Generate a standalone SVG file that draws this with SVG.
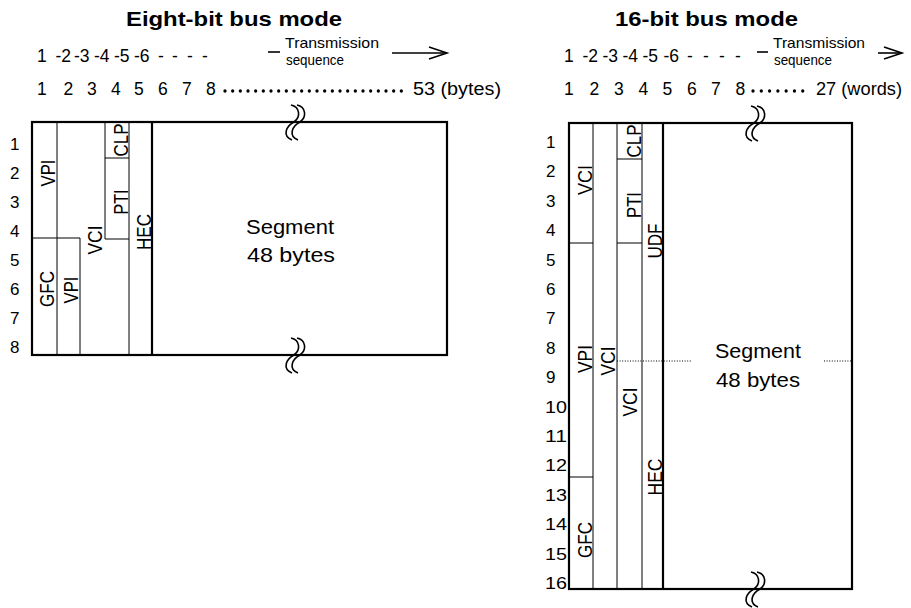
<svg xmlns="http://www.w3.org/2000/svg" width="911" height="608" viewBox="0 0 911 608">
<style>
text{font-family:"Liberation Sans",Arial,Helvetica,sans-serif;fill:#000}
.title{font-size:20.5px;font-weight:bold}
.num{font-size:17.5px}
.small{font-size:14.5px}
.row{font-size:17px}
.lab{font-size:21px}
.seg{font-size:20.5px}
.thick{stroke:#000;stroke-width:2.2;fill:none}
.thin{stroke:#000;stroke-width:1;fill:none}
.brk{stroke:#000;stroke-width:1.6;fill:none}
.dots{stroke:#000;stroke-width:3.3;stroke-linecap:round;fill:none}
.dotted{stroke:#000;stroke-width:1;stroke-dasharray:1 1.6;fill:none}
.arr{stroke:#000;stroke-width:1.6;fill:none}
</style>
<defs>
<path id="brk" d="M-3,-17 C6,-15 7,-5 0,0 C-8,4 -12,14 -2,18"/>
</defs>

<g id="eight-bit">
  <text id="title8" class="title" x="126" y="26" textLength="216" lengthAdjust="spacingAndGlyphs">Eight-bit bus mode</text>
  <g id="seq8">
    <text class="num" y="62"><tspan x="37">1</tspan> <tspan x="55.5">-2</tspan> <tspan x="74">-3</tspan> <tspan x="94">-4</tspan> <tspan x="114">-5</tspan> <tspan x="134">-6</tspan> <tspan x="158">-</tspan> <tspan x="172">-</tspan> <tspan x="187">-</tspan> <tspan x="202">-</tspan></text>
    <line class="arr" x1="268" y1="52" x2="280" y2="52"/>
    <text class="small" x="285" y="48" textLength="94" lengthAdjust="spacingAndGlyphs">Transmission</text>
    <text class="small" x="286" y="65" textLength="58" lengthAdjust="spacingAndGlyphs">sequence</text>
    <line class="arr" x1="392" y1="53" x2="447" y2="53"/>
    <polyline class="arr" points="429,47 447,53 429,59"/>
  </g>
  <g id="bytes8">
    <text class="num" y="95"><tspan x="37">1</tspan> <tspan x="63.5">2</tspan> <tspan x="87">3</tspan> <tspan x="111">4</tspan> <tspan x="134">5</tspan> <tspan x="158">6</tspan> <tspan x="182">7</tspan> <tspan x="206">8</tspan></text>
    <line class="dots" x1="225" y1="91" x2="409" y2="91" stroke-dasharray="0 7.667"/>
    <text class="num" x="413" y="95" textLength="88" lengthAdjust="spacingAndGlyphs">53 (bytes)</text>
  </g>
  <g id="rows8">
    <text class="row" x="10" y="149.5">1</text>
    <text class="row" x="10" y="178.5">2</text>
    <text class="row" x="10" y="207.5">3</text>
    <text class="row" x="10" y="236.5">4</text>
    <text class="row" x="10" y="265.5">5</text>
    <text class="row" x="10" y="294.5">6</text>
    <text class="row" x="10" y="323.5">7</text>
    <text class="row" x="10" y="352.5">8</text>
  </g>
  <g id="cell8">
    <rect class="thick" x="32" y="122" width="415" height="233"/>
    <line class="thin" x1="57" y1="122" x2="57" y2="355"/>
    <line class="thin" x1="80" y1="238" x2="80" y2="355"/>
    <line class="thin" x1="105" y1="122" x2="105" y2="239"/>
    <line class="thin" x1="129" y1="122" x2="129" y2="355"/>
    <line class="thick" x1="152" y1="122" x2="152" y2="355"/>
    <line class="thin" x1="32" y1="238" x2="80" y2="238"/>
    <line class="thin" x1="105" y1="158" x2="129" y2="158"/>
    <line class="thin" x1="105" y1="239" x2="129" y2="239"/>
    <g id="brk8top" class="brk"><use href="#brk" x="294" y="122"/><use href="#brk" x="300" y="122"/></g>
    <g id="brk8bot" class="brk"><use href="#brk" x="294" y="355"/><use href="#brk" x="300" y="355"/></g>
  </g>
  <g id="fields8">
    <text class="lab" transform="translate(55,173) rotate(-90)" text-anchor="middle" textLength="27" lengthAdjust="spacingAndGlyphs">VPI</text>
    <text class="lab" transform="translate(54,289) rotate(-90)" text-anchor="middle" textLength="36" lengthAdjust="spacingAndGlyphs">GFC</text>
    <text class="lab" transform="translate(78,290) rotate(-90)" text-anchor="middle" textLength="27" lengthAdjust="spacingAndGlyphs">VPI</text>
    <text class="lab" transform="translate(102,240) rotate(-90)" text-anchor="middle" textLength="29" lengthAdjust="spacingAndGlyphs">VCI</text>
    <text class="lab" transform="translate(128,140) rotate(-90)" text-anchor="middle" textLength="33" lengthAdjust="spacingAndGlyphs">CLP</text>
    <text class="lab" transform="translate(128,202) rotate(-90)" text-anchor="middle" textLength="25" lengthAdjust="spacingAndGlyphs">PTI</text>
    <text class="lab" transform="translate(151,232) rotate(-90)" text-anchor="middle" textLength="36" lengthAdjust="spacingAndGlyphs">HEC</text>
    <text class="seg" x="290" y="234" text-anchor="middle" textLength="88" lengthAdjust="spacingAndGlyphs">Segment</text>
    <text class="seg" x="291" y="262" text-anchor="middle" textLength="88" lengthAdjust="spacingAndGlyphs">48 bytes</text>
  </g>
</g>

<g id="sixteen-bit">
  <text id="title16" class="title" x="615" y="26" textLength="183" lengthAdjust="spacingAndGlyphs">16-bit bus mode</text>
  <g id="seq16">
    <text class="num" y="62"><tspan x="564">1</tspan> <tspan x="582.5">-2</tspan> <tspan x="602.5">-3</tspan> <tspan x="622.5">-4</tspan> <tspan x="642.5">-5</tspan> <tspan x="663.5">-6</tspan> <tspan x="687">-</tspan> <tspan x="703">-</tspan> <tspan x="719">-</tspan> <tspan x="735">-</tspan></text>
    <line class="arr" x1="757" y1="52" x2="768" y2="52"/>
    <text class="small" x="773" y="48" textLength="92" lengthAdjust="spacingAndGlyphs">Transmission</text>
    <text class="small" x="774" y="65" textLength="58" lengthAdjust="spacingAndGlyphs">sequence</text>
    <line class="arr" x1="878" y1="53" x2="902" y2="53"/>
    <polyline class="arr" points="884,47 902,53 884,59"/>
  </g>
  <g id="words16">
    <text class="num" y="95"><tspan x="564">1</tspan> <tspan x="589.5">2</tspan> <tspan x="614">3</tspan> <tspan x="638.5">4</tspan> <tspan x="662.5">5</tspan> <tspan x="687">6</tspan> <tspan x="711">7</tspan> <tspan x="735.5">8</tspan></text>
    <line class="dots" x1="753" y1="91" x2="811" y2="91" stroke-dasharray="0 8.29"/>
    <text class="num" x="816" y="95" textLength="86" lengthAdjust="spacingAndGlyphs">27 (words)</text>
  </g>
  <g id="rows16">
    <text class="row" x="546" y="148">1</text>
    <text class="row" x="546" y="177.4">2</text>
    <text class="row" x="546" y="206.8">3</text>
    <text class="row" x="546" y="236.2">4</text>
    <text class="row" x="546" y="265.6">5</text>
    <text class="row" x="546" y="295">6</text>
    <text class="row" x="546" y="324.4">7</text>
    <text class="row" x="546" y="353.8">8</text>
    <text class="row" x="546" y="383.2">9</text>
    <text class="row" x="545" y="412.6" textLength="22" lengthAdjust="spacingAndGlyphs">10</text>
    <text class="row" x="545" y="442" textLength="22" lengthAdjust="spacingAndGlyphs">11</text>
    <text class="row" x="545" y="471.4" textLength="22" lengthAdjust="spacingAndGlyphs">12</text>
    <text class="row" x="545" y="500.8" textLength="22" lengthAdjust="spacingAndGlyphs">13</text>
    <text class="row" x="545" y="530.2" textLength="22" lengthAdjust="spacingAndGlyphs">14</text>
    <text class="row" x="545" y="559.6" textLength="22" lengthAdjust="spacingAndGlyphs">15</text>
    <text class="row" x="545" y="589" textLength="22" lengthAdjust="spacingAndGlyphs">16</text>
  </g>
  <g id="cell16">
    <rect class="thick" x="569" y="123" width="283" height="466"/>
    <line class="thin" x1="593" y1="123" x2="593" y2="589"/>
    <line class="thin" x1="617" y1="123" x2="617" y2="589"/>
    <line class="thin" x1="642" y1="123" x2="642" y2="589"/>
    <line class="thick" x1="663" y1="123" x2="663" y2="589"/>
    <line class="thin" x1="569" y1="243" x2="593" y2="243"/>
    <line class="thin" x1="617" y1="159" x2="642" y2="159"/>
    <line class="thin" x1="617" y1="243" x2="642" y2="243"/>
    <line class="thin" x1="569" y1="477" x2="593" y2="477"/>
    <line class="dotted" x1="617" y1="361" x2="692" y2="361"/>
    <line class="dotted" x1="824" y1="361" x2="851" y2="361"/>
    <g id="brk16top" class="brk"><use href="#brk" x="754" y="123"/><use href="#brk" x="760" y="123"/></g>
    <g id="brk16bot" class="brk"><use href="#brk" x="754" y="589"/><use href="#brk" x="760" y="589"/></g>
  </g>
  <g id="fields16">
    <text class="lab" transform="translate(592,180) rotate(-90)" text-anchor="middle" textLength="30" lengthAdjust="spacingAndGlyphs">VCI</text>
    <text class="lab" transform="translate(592,359) rotate(-90)" text-anchor="middle" textLength="28" lengthAdjust="spacingAndGlyphs">VPI</text>
    <text class="lab" transform="translate(592,540) rotate(-90)" text-anchor="middle" textLength="36" lengthAdjust="spacingAndGlyphs">GFC</text>
    <text class="lab" transform="translate(615,361) rotate(-90)" text-anchor="middle" textLength="29" lengthAdjust="spacingAndGlyphs">VCI</text>
    <text class="lab" transform="translate(641,141) rotate(-90)" text-anchor="middle" textLength="33" lengthAdjust="spacingAndGlyphs">CLP</text>
    <text class="lab" transform="translate(641,205) rotate(-90)" text-anchor="middle" textLength="26" lengthAdjust="spacingAndGlyphs">PTI</text>
    <text class="lab" transform="translate(637,402) rotate(-90)" text-anchor="middle" textLength="29" lengthAdjust="spacingAndGlyphs">VCI</text>
    <text class="lab" transform="translate(662,241) rotate(-90)" text-anchor="middle" textLength="35" lengthAdjust="spacingAndGlyphs">UDF</text>
    <text class="lab" transform="translate(662,477) rotate(-90)" text-anchor="middle" textLength="37" lengthAdjust="spacingAndGlyphs">HEC</text>
    <text class="seg" x="758" y="358" text-anchor="middle" textLength="86" lengthAdjust="spacingAndGlyphs">Segment</text>
    <text class="seg" x="758" y="387" text-anchor="middle" textLength="84" lengthAdjust="spacingAndGlyphs">48 bytes</text>
  </g>
</g>
</svg>
